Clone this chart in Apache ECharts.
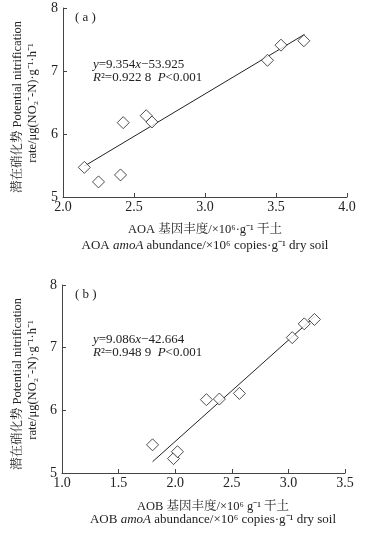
<!DOCTYPE html>
<html>
<head>
<meta charset="utf-8">
<script src="https://cdn.jsdelivr.net/npm/echarts@6/dist/echarts.min.js"></script>
<style>
  html, body { margin: 0; padding: 0; background: #fff; }
  #chart { width: 377px; height: 536px; }
</style>
</head>
<body>
<div id="chart"></div>
<script>
// 数据
const aoaX = [2.15, 2.25, 2.405, 2.424, 2.586, 2.626, 3.44, 3.535, 3.696]
const aoaY = [5.47, 5.24, 5.35, 6.18, 6.29, 6.19, 7.17, 7.41, 7.48]
const aobX = [1.80, 1.985, 2.02, 2.276, 2.39, 2.567, 3.034, 3.14, 3.23]
const aobY = [5.45, 5.23, 5.34, 6.17, 6.18, 6.27, 7.16, 7.38, 7.45]
// 拟合线两端
const fitA = [[2.15, 5.49], [3.70, 7.58]]
const fitB = [[1.80, 5.18], [3.235, 7.50]]
const xRangeA = [2.0, 4.0]
const xRangeB = [1.0, 3.5]
const yRange = [5, 8]

const FONT = "'Liberation Serif', 'Noto Serif CJK SC', 'Noto Sans CJK SC', serif"
const INK = '#222'
const AXIS = '#444'

const pairs = (xs, ys) => xs.map((x, i) => [x, ys[i]])

const xAxisOf = (idx, range) => ({
  gridIndex: idx,
  type: 'value',
  min: range[0],
  max: range[1],
  interval: 0.5,
  axisLine: { show: true, lineStyle: { color: AXIS, width: 1 } },
  axisTick: { show: true, inside: true, length: 4, lineStyle: { color: AXIS } },
  axisLabel: { color: INK, fontFamily: FONT, fontSize: 14, margin: 3, formatter: v => v.toFixed(1) },
  splitLine: { show: false }
})

const yAxisOf = (idx) => ({
  gridIndex: idx,
  type: 'value',
  min: yRange[0],
  max: yRange[1],
  interval: 1,
  axisLine: { show: true, lineStyle: { color: AXIS, width: 1 } },
  axisTick: { show: true, inside: true, length: 4, lineStyle: { color: AXIS } },
  axisLabel: { color: INK, fontFamily: FONT, fontSize: 14, margin: 5 },
  splitLine: { show: false }
})

const scatterOf = (idx, data) => ({
  type: 'scatter',
  xAxisIndex: idx,
  yAxisIndex: idx,
  symbol: 'diamond',
  symbolSize: [12, 12],
  itemStyle: { color: '#fff', borderColor: INK, borderWidth: 1 },
  data: data,
  z: 3
})

const lineOf = (idx, data) => ({
  type: 'line',
  xAxisIndex: idx,
  yAxisIndex: idx,
  symbol: 'none',
  lineStyle: { color: INK, width: 1 },
  data: data,
  z: 2
})

const txt = (x, y, text, extra) => ({
  type: 'text',
  x: x,
  y: y,
  style: Object.assign({
    text: text,
    fill: INK,
    font: '13px ' + FONT,
    align: 'left',
    verticalAlign: 'middle',
    rich: {
      i: { fontStyle: 'italic', fontFamily: FONT, fontSize: 13, fill: INK },
      n: { fontFamily: FONT, fontSize: 13, fill: INK }
    }
  }, extra || {})
})

const yTitle = (cx, cy) => [
  txt(cx, cy, '潜在硝化势 Potential nitrification', { align: 'center', font: '12.5px ' + FONT }),
  txt(cx + 15, cy - 4, 'rate/μg(NO₂⁻-N)·g⁻¹·h⁻¹', { align: 'center', font: '12.5px ' + FONT })
].map(g => Object.assign(g, { rotation: Math.PI / 2 }))

const chart = echarts.init(document.getElementById('chart'))
chart.setOption({
  animation: false,
  backgroundColor: '#fff',
  grid: [
    { left: 63, top: 8, width: 284, height: 189 },
    { left: 62, top: 285, width: 283, height: 188 }
  ],
  xAxis: [xAxisOf(0, xRangeA), xAxisOf(1, xRangeB)],
  yAxis: [yAxisOf(0), yAxisOf(1)],
  series: [
    lineOf(0, fitA),
    scatterOf(0, pairs(aoaX, aoaY)),
    lineOf(1, fitB),
    scatterOf(1, pairs(aobX, aobY))
  ],
  graphic: [
    txt(75, 18, '( a )', { font: '13px ' + FONT }),
    txt(93, 65, '{i|y}{n|=9.354}{i|x}{n|−53.925}'),
    txt(93, 78, '{i|R}{n|²=0.922 8  }{i|P}{n|<0.001}'),
    txt(205, 230, 'AOA 基因丰度/×10⁶·g⁻¹ 干土', { align: 'center', font: '12.5px ' + FONT }),
    txt(205, 246, '{n|AOA }{i|amoA}{n| abundance/×10⁶ copies·g⁻¹ dry soil}', { align: 'center' }),
    ...yTitle(18, 107),

    txt(75, 295, '( b )', { font: '13px ' + FONT }),
    txt(93, 340, '{i|y}{n|=9.086}{i|x}{n|−42.664}'),
    txt(93, 353, '{i|R}{n|²=0.948 9  }{i|P}{n|<0.001}'),
    txt(213, 507, 'AOB 基因丰度/×10⁶ g⁻¹ 干土', { align: 'center', font: '12.5px ' + FONT }),
    txt(213, 520, '{n|AOB }{i|amoA}{n| abundance/×10⁶ copies·g⁻¹ dry soil}', { align: 'center' }),
    ...yTitle(18, 384)
  ]
})
</script>
</body>
</html>
